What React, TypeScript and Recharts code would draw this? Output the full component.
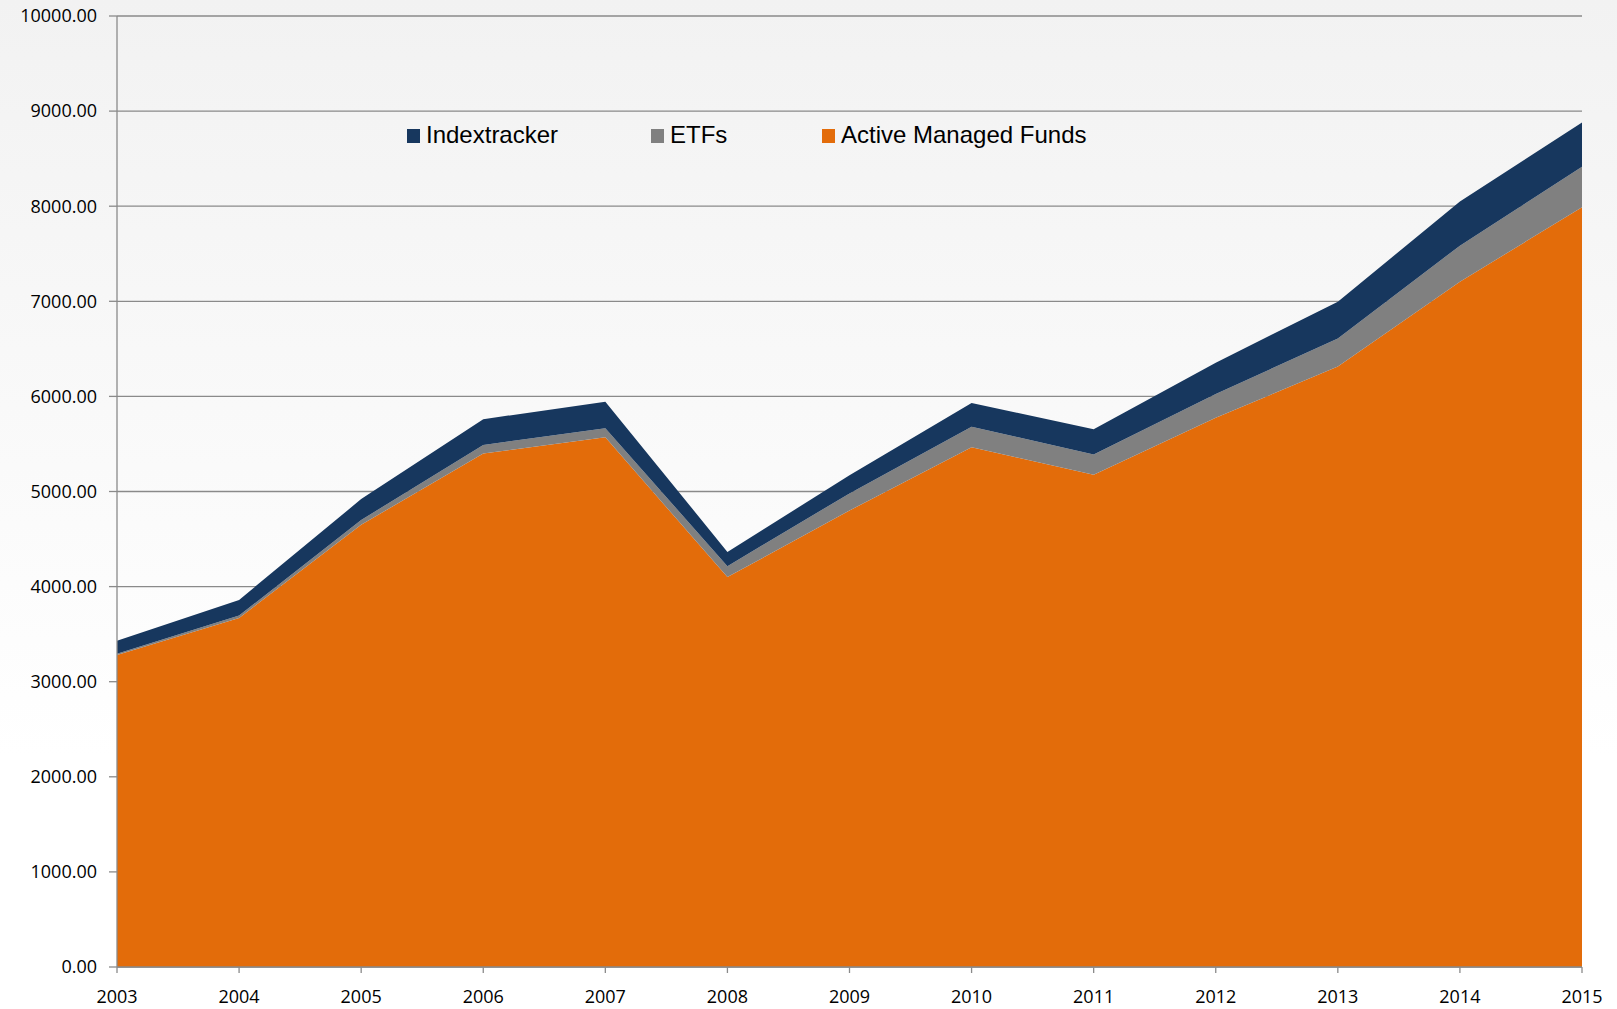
import React from 'react';
import { AreaChart, Area, XAxis, YAxis, CartesianGrid, Legend } from 'recharts';

const years = ['2003', '2004', '2005', '2006', '2007', '2008', '2009', '2010', '2011', '2012', '2013', '2014', '2015'];
const activeManaged = [3280, 3670, 4650, 5400, 5570, 4100, 4800, 5465, 5175, 5775, 6315, 7205, 7990];
const etfs = [15, 25, 50, 90, 95, 115, 180, 215, 215, 250, 295, 380, 425];
const indextracker = [135, 165, 220, 270, 280, 150, 190, 250, 265, 330, 385, 465, 465];
const yTicks = [0, 1000, 2000, 3000, 4000, 5000, 6000, 7000, 8000, 9000, 10000];

const data = years.map((y, i) => ({
  year: y,
  active: activeManaged[i],
  etf: etfs[i],
  index: indextracker[i],
}));

const COLORS = { index: '#17375E', etf: '#808080', active: '#E36C0A' };
const legendItems = [
  { key: 'index', label: 'Indextracker', left: 407 },
  { key: 'etf', label: 'ETFs', left: 651 },
  { key: 'active', label: 'Active Managed Funds', left: 822 },
];

const renderLegend = () => (
  <div style={{ position: 'relative', width: 1617, height: 40 }}>
    {legendItems.map((it) => (
      <React.Fragment key={it.key}>
        <div
          style={{
            position: 'absolute',
            left: it.left,
            top: 14,
            width: 13,
            height: 14,
            background: (COLORS as any)[it.key],
          }}
        />
        <span
          style={{
            position: 'absolute',
            left: it.left + 19,
            top: 8,
            fontFamily: "'Liberation Sans', Arial, sans-serif",
            fontSize: 24,
            lineHeight: '24px',
            color: '#000',
            whiteSpace: 'nowrap',
          }}
        >
          {it.label}
        </span>
      </React.Fragment>
    ))}
  </div>
);

const axisColor = '#8a8a8a';
const tickFont = { fontFamily: "'Open Sans', sans-serif", fontSize: 18, fill: '#000' };

export default function App() {
  return (
    <div
      style={{
        position: 'absolute',
        left: 0,
        top: 0,
        width: 1617,
        height: 1009,
        background: 'linear-gradient(to bottom, #f2f2f2 0%, #ffffff 75%, #ffffff 100%)',
      }}
    >
      <AreaChart width={1617} height={1009} data={data} margin={{ top: 16, right: 35, left: 0, bottom: 0 }}>
        <CartesianGrid vertical={false} stroke={axisColor} strokeWidth={1.3} />
        <XAxis
          dataKey="year"
          height={42}
          tickSize={6}
          tickMargin={17}
          axisLine={{ stroke: axisColor, strokeWidth: 1.3 }}
          tickLine={{ stroke: axisColor, strokeWidth: 1.3 }}
          tick={tickFont}
          interval={0}
        />
        <YAxis
          width={117}
          domain={[0, 10000]}
          ticks={yTicks}
          tickFormatter={(v: number) => v.toFixed(2)}
          tickSize={8}
          tickMargin={12}
          axisLine={{ stroke: axisColor, strokeWidth: 1.3 }}
          tickLine={{ stroke: axisColor, strokeWidth: 1.3 }}
          tick={tickFont}
          interval={0}
        />
        <Legend
          content={renderLegend}
          layout="vertical"
          align="center"
          verticalAlign="middle"
          wrapperStyle={{ top: 115, left: 0, width: 1617, height: 40 }}
        />
        <Area
          type="linear"
          dataKey="active"
          name="Active Managed Funds"
          stackId="1"
          fill={COLORS.active}
          fillOpacity={1}
          stroke="none"
          isAnimationActive={false}
        />
        <Area
          type="linear"
          dataKey="etf"
          name="ETFs"
          stackId="1"
          fill={COLORS.etf}
          fillOpacity={1}
          stroke="none"
          isAnimationActive={false}
        />
        <Area
          type="linear"
          dataKey="index"
          name="Indextracker"
          stackId="1"
          fill={COLORS.index}
          fillOpacity={1}
          stroke="none"
          isAnimationActive={false}
        />
      </AreaChart>
    </div>
  );
}
